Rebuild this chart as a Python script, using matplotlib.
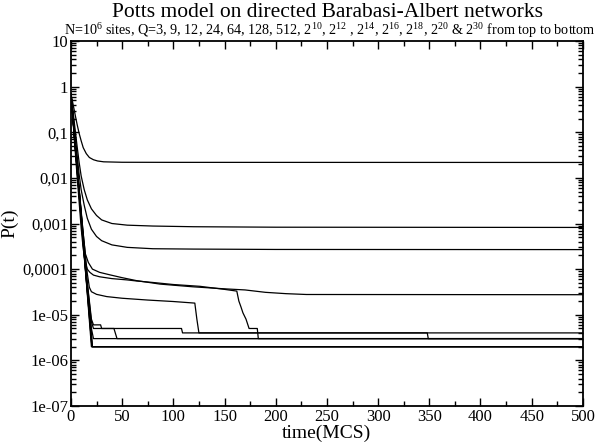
import matplotlib
matplotlib.use('Agg')
import matplotlib.pyplot as plt
from matplotlib.ticker import MultipleLocator, LogLocator, FixedLocator, FixedFormatter, NullFormatter

plt.rcParams['font.family'] = ['Liberation Serif', 'DejaVu Serif']
plt.rcParams['mathtext.fontset'] = 'custom'
plt.rcParams['mathtext.rm'] = 'Liberation Serif'

# values, one list pair per Q (top to bottom)
t_q3 = [0, 2, 4, 6, 8, 10, 12, 15, 18, 22, 26, 32, 50, 100, 500]
p_q3 = [0.7, 0.42, 0.25, 0.15, 0.095, 0.065, 0.046, 0.034, 0.028, 0.025, 0.0235, 0.0225, 0.022, 0.0219, 0.0218]

t_q9 = [0, 2, 4, 6, 8, 10, 13, 16, 20, 25, 30, 40, 55, 80, 120, 200, 500]
p_q9 = [0.7, 0.3, 0.12, 0.05, 0.022, 0.011, 0.0055, 0.0033, 0.0021, 0.0015, 0.0012, 0.001,
        0.00092, 0.00088, 0.00085, 0.00083, 0.00082]

t_q12 = [0, 2, 4, 6, 8, 10, 13, 16, 20, 25, 30, 40, 55, 80, 120, 200, 500]
p_q12 = [0.7, 0.25, 0.09, 0.033, 0.012, 0.0055, 0.0025, 0.0013, 0.00075, 0.00052, 0.00042,
         0.00034, 0.0003, 0.00028, 0.000275, 0.00027, 0.000268]

t_q24 = [0, 2, 4, 6, 8, 10, 12, 14, 17, 21, 28, 38, 50, 64, 87, 119, 150, 170, 190, 210, 230, 500]
p_q24 = [0.7, 0.2, 0.06, 0.018, 0.0055, 0.0017, 0.0006, 0.00022, 0.00014, 0.0001, 8.5e-5, 7.5e-5,
         6.5e-5, 5.6e-5, 4.7e-5, 4.1e-5, 3.7e-5, 3.5e-5, 3.1e-5, 2.9e-5, 2.78e-5, 2.75e-5]

t_q64 = [0, 2, 4, 6, 8, 10, 12, 14, 16, 18.5, 22, 28, 40, 55, 64, 80, 100, 126, 150, 162,
         164, 166, 168, 171, 174, 182, 183, 500]
p_q64 = [0.7, 0.18, 0.045, 0.011, 0.003, 0.0008, 0.00028, 0.00014, 0.0001, 8.5e-5, 7.4e-5,
         6.8e-5, 6.2e-5, 5.8e-5, 5.5e-5, 5.1e-5, 4.6e-5, 4.2e-5, 3.6e-5, 3.3e-5,
         2e-5, 1.5e-5, 1.1e-5, 8e-6, 5e-6, 5e-6, 3e-6, 3e-6]

t_q128 = [0, 4, 8, 12, 16, 18, 20, 25, 35, 50, 75, 100, 121, 123, 125, 500]
p_q128 = [0.7, 0.07, 0.006, 0.0006, 8e-5, 4e-5, 3.2e-5, 2.8e-5, 2.5e-5, 2.3e-5, 2.1e-5,
          1.95e-5, 1.8e-5, 8e-6, 4e-6, 4e-6]

t_q512 = [0, 5, 10, 15, 20, 22, 29, 30, 108, 109, 348, 349, 500]
p_q512 = [0.7, 0.035, 0.0017, 8e-5, 8e-6, 6e-6, 6e-6, 5e-6, 5e-6, 4e-6, 4e-6, 3e-6, 3e-6]

t_q2e10 = [0, 5, 10, 15, 20, 22, 42, 45, 500]
p_q2e10 = [0.7, 0.033, 0.0016, 7.5e-5, 7e-6, 5e-6, 5e-6, 3e-6, 3e-6]

t_q2e12 = [0, 5, 10, 15, 20, 22, 500]
p_q2e12 = [0.7, 0.032, 0.0015, 7e-5, 5e-6, 3e-6, 3e-6]

t_q2e14 = [0, 5, 10, 15, 21, 500]
p_q2e14 = [0.7, 0.031, 0.0014, 6.5e-5, 2e-6, 2e-6]

t_q2e16 = [0, 5, 10, 15, 21, 500]
p_q2e16 = [0.7, 0.03, 0.0014, 6.3e-5, 2e-6, 2e-6]

t_q2e18 = [0, 5, 10, 15, 20.5, 500]
p_q2e18 = [0.7, 0.03, 0.0013, 6e-5, 2e-6, 2e-6]

t_q2e20 = [0, 5, 10, 15, 20.5, 500]
p_q2e20 = [0.7, 0.029, 0.0013, 5.8e-5, 2e-6, 2e-6]

t_q2e30 = [0, 5, 10, 15, 20, 500]
p_q2e30 = [0.7, 0.028, 0.0012, 5.5e-5, 2e-6, 2e-6]

curves = [(t_q3, p_q3), (t_q9, p_q9), (t_q12, p_q12), (t_q24, p_q24), (t_q64, p_q64),
          (t_q128, p_q128), (t_q512, p_q512), (t_q2e10, p_q2e10), (t_q2e12, p_q2e12),
          (t_q2e14, p_q2e14), (t_q2e16, p_q2e16), (t_q2e18, p_q2e18), (t_q2e20, p_q2e20),
          (t_q2e30, p_q2e30)]

ytick_vals = [10, 1, 0.1, 0.01, 0.001, 0.0001, 1e-5, 1e-6, 1e-7]
ytick_labels = ['10', '1', '0,1', '0,01', '0,001', '0,0001', '1e-05', '1e-06', '1e-07']

fig = plt.figure(figsize=(5.96, 4.44), dpi=100)
ax = fig.add_axes([0.119, 0.0856, 0.859, 0.822])

for t, p in curves:
    ax.plot(t, p, color='black', linewidth=0.9)

ax.set_yscale('log')
ax.set_xlim(0, 500)
ax.set_ylim(1e-7, 10)

ax.xaxis.set_major_locator(MultipleLocator(50))
ax.xaxis.set_minor_locator(MultipleLocator(25))
ax.yaxis.set_major_locator(FixedLocator(ytick_vals))
ax.yaxis.set_major_formatter(FixedFormatter(ytick_labels))
ax.yaxis.set_minor_locator(LogLocator(base=10, subs=range(2, 10), numticks=20))
ax.yaxis.set_minor_formatter(NullFormatter())

ax.tick_params(which='both', direction='in', top=True, right=True, labelsize=12, width=1)
ax.tick_params(which='major', length=6, pad=2)
ax.tick_params(which='minor', length=3.5)
for s in ax.spines.values():
    s.set_linewidth(1.3)

ax.set_xlabel('time(MCS)', fontsize=14, labelpad=0)
ax.set_ylabel('P(t)', fontsize=14)
ax.yaxis.set_label_coords(-0.103, 0.5)

# title and subtitle
fig.text(0.55, 0.962, 'Potts model on directed Barabasi-Albert networks',
         ha='center', va='baseline', fontsize=15.5)
fig.text(0.553, 0.922,
         r'N=10$^{\mathregular{6}}$ sites, Q=3, 9, 12, 24, 64, 128, 512, 2$^{\mathregular{10}}$, '
         r'2$^{\mathregular{12}}$ , 2$^{\mathregular{14}}$, 2$^{\mathregular{16}}$, 2$^{\mathregular{18}}$, '
         r'2$^{\mathregular{20}}$ & 2$^{\mathregular{30}}$ from top to bottom',
         ha='center', va='baseline', fontsize=10.2)

fig.savefig('out.png', dpi=100)
